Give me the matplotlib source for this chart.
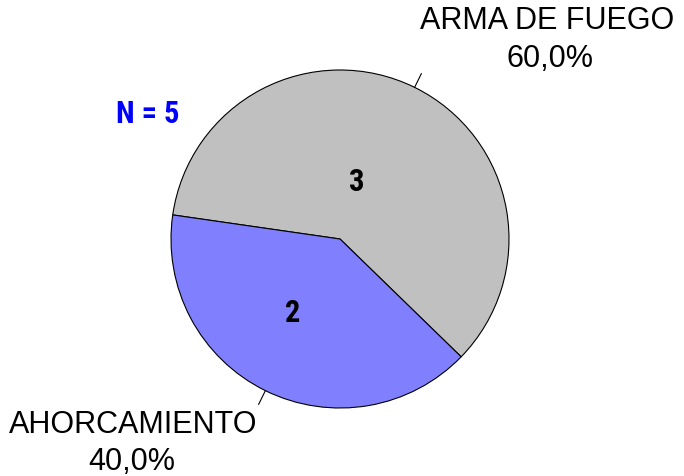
import numpy as np
import matplotlib
matplotlib.use("Agg")
import matplotlib.pyplot as plt

# data
categories = ["ARMA DE FUEGO", "AHORCAMIENTO"]
counts = [3, 2]
colors = ["#C0C0C0", "#8080FF"]
total = sum(counts)

W, H = 684, 476
R_PX = 169.0
CX, CY = 340.0, 237.0  # pie centre in pixels (from bottom-left)

fig = plt.figure(figsize=(W / 100, H / 100), dpi=100)
ax = fig.add_axes([0, 0, 1, 1])
ax.set_aspect("equal")
ax.axis("off")

start = 171.8
wedges, _ = ax.pie(counts, colors=colors, startangle=start, counterclock=False,
                   radius=1.0, center=(0, 0),
                   wedgeprops=dict(edgecolor="black", linewidth=0.8))
ax.set_xlim(-CX / R_PX, (W - CX) / R_PX)
ax.set_ylim(-CY / R_PX, (H - CY) / R_PX)

label_font = ["Liberation Sans", "DejaVu Sans"]
bold_font = ["Roboto Condensed", "Asap Condensed", "DejaVu Sans"]
fs = 22

# leader lines at each wedge's mid angle
for w in wedges:
    mid = np.deg2rad((w.theta1 + w.theta2) / 2)
    ax.plot([np.cos(mid) * 1.0, np.cos(mid) * 1.09],
            [np.sin(mid) * 1.0, np.sin(mid) * 1.09], color="black", lw=0.8)

# outer labels
label_pos = [((1.225, 1.290), (1.24, 1.068)), ((-1.225, -1.101), (-1.23, -1.320))]
for name, c, (p1, p2) in zip(categories, counts, label_pos):
    pct = f"{100 * c / total:.1f}%".replace(".", ",")
    ax.text(*p1, name, ha="center", va="center", fontsize=fs, family=label_font)
    ax.text(*p2, pct, ha="center", va="center", fontsize=fs, family=label_font)

# inner counts
inner_pos = [(0.10, 0.337), (-0.278, -0.435)]
for c, p in zip(counts, inner_pos):
    ax.text(*p, str(c), ha="center", va="center", fontsize=fs,
            fontweight="bold", family=bold_font)

ax.text(-1.136, 0.737, f"N = {total}", ha="center", va="center", fontsize=fs,
        fontweight="bold", color="#0000FF", family=bold_font)

fig.savefig("out.png", dpi=100)
